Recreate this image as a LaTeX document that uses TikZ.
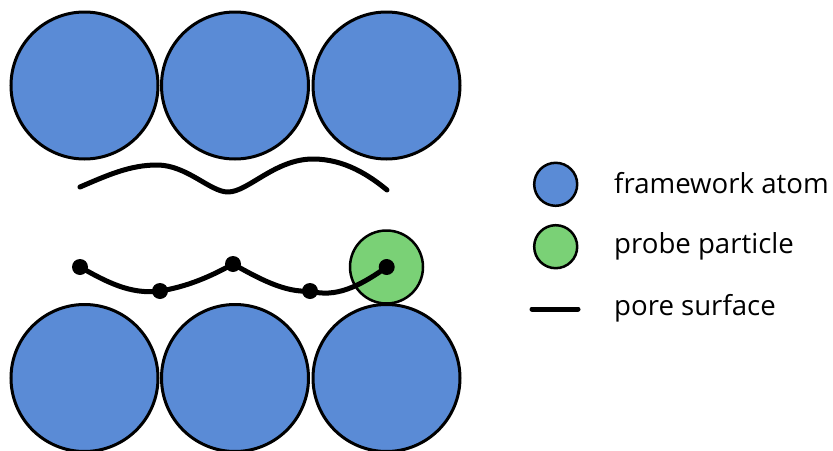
\documentclass[tikz,border=0pt]{standalone}
\usepackage{fontspec}
\setmainfont{Open Sans}
\definecolor{atomblue}{HTML}{5A8BD6}
\definecolor{probegreen}{HTML}{7AD176}
\begin{document}
\begin{tikzpicture}[x=1pt,y=-1pt,
  atom/.style={circle,draw=black,line width=3pt,fill=atomblue,minimum size=147pt,inner sep=0pt},
  probe/.style={circle,draw=black,line width=2.5pt,fill=probegreen,minimum size=73pt,inner sep=0pt},
  legatom/.style={circle,draw=black,line width=2.5pt,fill=atomblue,minimum size=43pt,inner sep=0pt},
  legprobe/.style={circle,draw=black,line width=2.5pt,fill=probegreen,minimum size=43pt,inner sep=0pt},
  dot/.style={circle,fill=black,minimum size=16pt,inner sep=0pt},
  surf/.style={line width=5pt,line cap=round,line join=round},
  legtext/.style={anchor=base west,font=\fontsize{27.6}{32}\selectfont,inner sep=0pt}]
\useasboundingbox (0,0) rectangle (833,450);
% top row
\node[atom] (t1) at (84.5,85.5) {};
\node[atom] (t2) at (235,85.5) {};
\node[atom] (t3) at (386.5,85.5) {};
% bottom row
\node[atom] (b1) at (84.5,378) {};
\node[atom] (b2) at (235,378) {};
\node[atom] (b3) at (386.5,378) {};
% probe
\node[probe] (p) at (386.5,267) {};
% top pore surface
\draw[surf] (80,187) .. controls (108,175) and (130,165) .. (157,165)
  .. controls (187,165) and (210,192) .. (228,192)
  .. controls (248,192) and (275,159) .. (313,159)
  .. controls (345,159) and (370,176) .. (387,190);
% dots
\node[dot] (d1) at (80,267) {};
\node[dot] (d2) at (160,291) {};
\node[dot] (d3) at (233,264) {};
\node[dot] (d4) at (310,291) {};
\node[dot] (d5) at (386.7,267) {};
\draw[surf] (d1.center) .. controls +(25,14) and +(-30,4) .. (d2.center)
  .. controls +(25,-4) and +(-25,14) .. (d3.center)
  .. controls +(25,14) and +(-25,2) .. (d4.center)
  .. controls +(25,7) and +(-28,20) .. (d5.center);
% legend
\node[legatom] (la) at (555.7,184.3) {};
\node[legprobe] (lp) at (555.7,246.7) {};
\coordinate (ls1) at (532,309);
\coordinate (ls2) at (578,309);
\draw[surf] (ls1) -- (ls2);
\node[legtext] (ta) at (614,193.3) {framework atom};
\node[legtext] (tp) at (614,253.3) {probe particle};
\node[legtext] (ts) at (614,315) {pore surface};
\end{tikzpicture}
\end{document}
